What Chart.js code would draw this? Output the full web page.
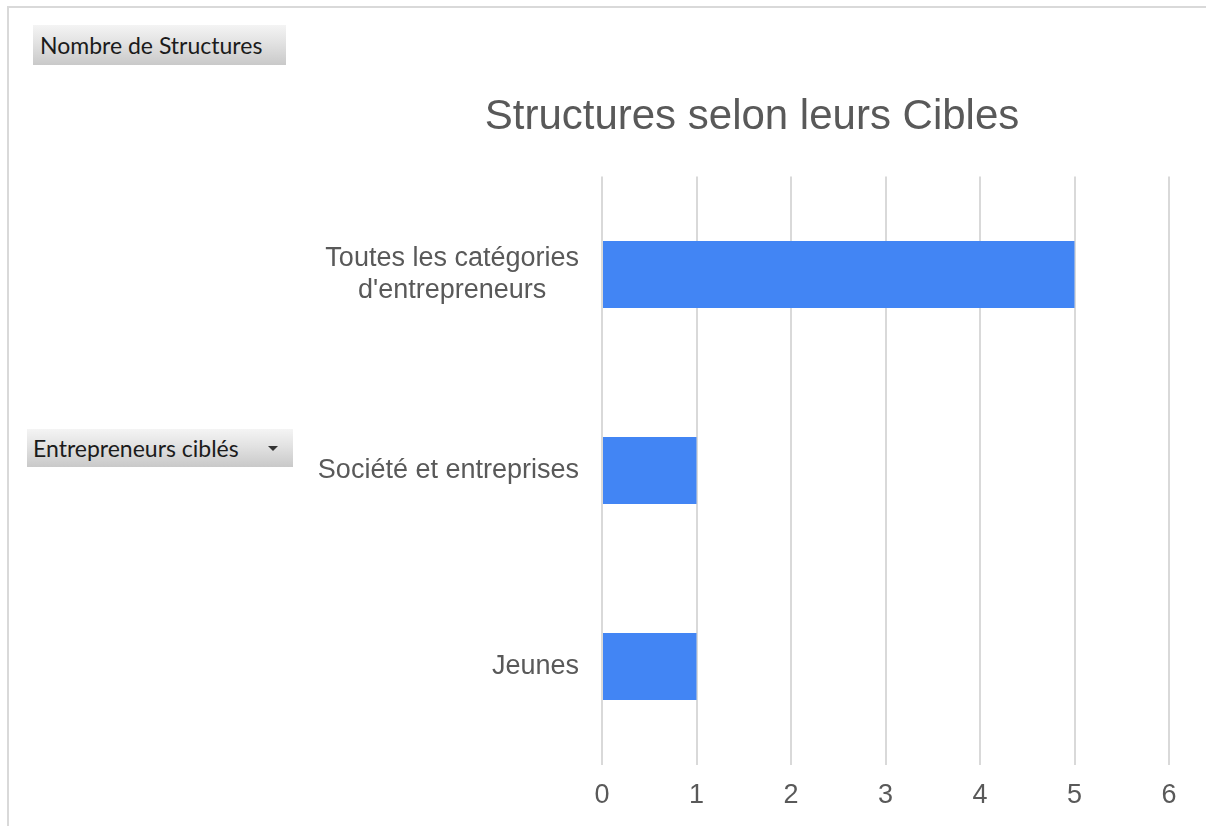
<!DOCTYPE html>
<html>
<head>
<meta charset="utf-8">
<script src="https://cdn.jsdelivr.net/npm/chart.js@4/dist/chart.umd.min.js"></script>
<style>
  html, body { margin: 0; padding: 0; background: #ffffff; }
  #wrap { position: relative; width: 1206px; height: 826px; overflow: hidden; background: #fff; }
  #c { position: absolute; left: 0; top: 0; }
  .frameTop { position: absolute; left: 7px; top: 6px; width: 1199px; height: 2px; background: #d9d9d9; }
  .frameLeft { position: absolute; left: 7px; top: 6px; width: 2px; height: 820px; background: #d9d9d9; }
  .btn {
    position: absolute; box-sizing: border-box;
    background: linear-gradient(to bottom, #f4f4f4 0%, #e2e2e2 45%, #c9c9c9 100%);
    font-family: "Lato", "Open Sans", sans-serif; font-size: 23px; color: #1b1b1b;
    line-height: 38px; padding-left: 7px; white-space: nowrap;
  }
  .arrow { position: absolute; width: 0; height: 0; border-left: 5px solid transparent; border-right: 5px solid transparent; border-top: 5px solid #333; }
</style>
</head>
<body>
<div id="wrap">
  <canvas id="c" width="1206" height="826"></canvas>
  <div class="frameTop"></div>
  <div class="frameLeft"></div>
  <div class="btn" style="left:33px; top:25px; width:253px; height:40px; line-height:40px;">Nombre de Structures</div>
  <div class="btn" style="left:27px; top:429px; width:266px; height:38px; padding-left:6px;">Entrepreneurs ciblés<div class="arrow" style="left:241px; top:17px;"></div></div>
</div>
<script>
const chartTitle = "Structures selon leurs Cibles";
const categories = [["Toutes les catégories", "d'entrepreneurs"], "Société et entreprises", "Jeunes"];
const seriesName = "Nombre de Structures";
const values = [5, 1, 1];
const xTicks = [0, 1, 2, 3, 4, 5, 6];

const FONT = "'Liberation Sans', Arial, sans-serif";

const centeredYLabels = {
  id: 'centeredYLabels',
  afterDraw(chart) {
    const ctx = chart.ctx;
    const y = chart.scales.y;
    const right = chart.chartArea.left - 23;
    ctx.save();
    ctx.font = "27px " + FONT;
    ctx.fillStyle = "#595959";
    ctx.textAlign = "center";
    ctx.textBaseline = "middle";
    const lh = 32;
    chart.data.labels.forEach((lab, i) => {
      const lines = Array.isArray(lab) ? lab : [lab];
      const w = Math.max(...lines.map(l => ctx.measureText(l).width));
      const cx = right - w / 2;
      const cy = y.getPixelForValue(i);
      const start = cy - (lines.length - 1) * lh / 2;
      lines.forEach((l, k) => ctx.fillText(l, cx, start + k * lh));
    });
    ctx.restore();
  }
};

new Chart(document.getElementById('c'), {
  type: 'bar',
  data: {
    labels: categories,
    datasets: [{
      label: seriesName,
      data: values,
      backgroundColor: '#4285f4',
      borderWidth: 0,
      categoryPercentage: 1,
      barPercentage: 0.342
    }]
  },
  options: {
    indexAxis: 'y',
    responsive: false,
    animation: false,
    devicePixelRatio: 1,
    layout: { padding: { left: 335, right: 37, top: 0, bottom: -1 } },
    plugins: {
      legend: { display: false },
      tooltip: { enabled: false },
      title: {
        display: true,
        text: chartTitle,
        color: '#595959',
        font: { family: FONT, size: 42, weight: 'normal' },
        padding: { top: 92, bottom: 34 }
      }
    },
    scales: {
      x: {
        min: xTicks[0],
        max: xTicks[xTicks.length - 1],
        afterBuildTicks(scale) { scale.ticks = xTicks.map(v => ({ value: v })); },
        grid: { color: '#d9d9d9', lineWidth: 2, drawTicks: false },
        border: { display: false },
        ticks: { color: '#595959', font: { family: FONT, size: 27 }, padding: 15 }
      },
      y: {
        grid: { display: false },
        border: { display: false },
        ticks: { display: false },
        afterFit(scale) { scale.width = 267; }
      }
    }
  },
  plugins: [centeredYLabels]
});
</script>
</body>
</html>
